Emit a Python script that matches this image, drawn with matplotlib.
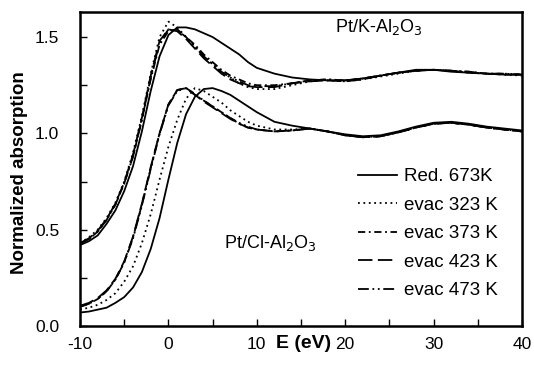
import matplotlib
matplotlib.use("Agg")
import matplotlib.pyplot as plt
from matplotlib.ticker import MultipleLocator, FormatStrFormatter

plt.rcParams['font.family'] = ['Liberation Sans', 'DejaVu Sans']
plt.rcParams['axes.unicode_minus'] = False

E = [-10, -9, -8, -7, -6, -5, -4, -3, -2, -1, 0, 1, 2, 3, 4, 5, 6, 7, 8, 9, 10,
     12, 14, 16, 18, 20, 22, 24, 26, 28, 30, 32, 34, 36, 38, 40]

# Pt/K-Al2O3 (upper group)
k_red673 = [0.42, 0.44, 0.47, 0.53, 0.60, 0.70, 0.83, 1.01, 1.22, 1.40, 1.51, 1.55, 1.55, 1.54, 1.52, 1.50, 1.47, 1.44, 1.41, 1.37, 1.34,
            1.31, 1.29, 1.28, 1.275, 1.275, 1.285, 1.30, 1.315, 1.33, 1.33, 1.32, 1.315, 1.31, 1.305, 1.305]
k_evac323 = [0.43, 0.46, 0.50, 0.56, 0.64, 0.75, 0.90, 1.09, 1.31, 1.50, 1.58, 1.55, 1.50, 1.45, 1.40, 1.36, 1.32, 1.29, 1.26, 1.24, 1.23,
             1.23, 1.25, 1.27, 1.275, 1.27, 1.28, 1.295, 1.31, 1.325, 1.33, 1.325, 1.315, 1.31, 1.305, 1.30]
k_evac373 = [0.43, 0.45, 0.49, 0.55, 0.63, 0.74, 0.88, 1.07, 1.28, 1.46, 1.53, 1.54, 1.50, 1.46, 1.41, 1.37, 1.33, 1.30, 1.28, 1.26, 1.25,
             1.25, 1.26, 1.275, 1.28, 1.275, 1.285, 1.30, 1.315, 1.325, 1.33, 1.325, 1.32, 1.31, 1.31, 1.305]
k_evac423 = [0.43, 0.455, 0.495, 0.555, 0.635, 0.745, 0.89, 1.08, 1.30, 1.48, 1.54, 1.53, 1.49, 1.44, 1.39, 1.35, 1.31, 1.28, 1.26, 1.245, 1.24,
             1.24, 1.26, 1.27, 1.275, 1.27, 1.28, 1.30, 1.315, 1.325, 1.33, 1.325, 1.315, 1.31, 1.305, 1.305]
k_evac473 = [0.43, 0.45, 0.49, 0.55, 0.63, 0.74, 0.88, 1.07, 1.29, 1.47, 1.54, 1.535, 1.50, 1.45, 1.40, 1.36, 1.32, 1.29, 1.27, 1.25, 1.245,
             1.245, 1.26, 1.275, 1.28, 1.275, 1.285, 1.30, 1.315, 1.325, 1.33, 1.325, 1.32, 1.31, 1.31, 1.305]

# Pt/Cl-Al2O3 (lower group)
cl_red673 = [0.07, 0.075, 0.085, 0.095, 0.12, 0.15, 0.20, 0.28, 0.40, 0.56, 0.76, 0.95, 1.10, 1.19, 1.23, 1.235, 1.22, 1.20, 1.17, 1.14, 1.11,
             1.06, 1.04, 1.025, 1.01, 0.995, 0.985, 0.99, 1.01, 1.035, 1.055, 1.06, 1.05, 1.035, 1.025, 1.015]
cl_evac323 = [0.085, 0.095, 0.11, 0.135, 0.17, 0.23, 0.31, 0.43, 0.58, 0.76, 0.93, 1.07, 1.18, 1.235, 1.22, 1.19, 1.16, 1.12, 1.09, 1.06, 1.04,
              1.02, 1.02, 1.025, 1.01, 0.99, 0.98, 0.985, 1.005, 1.03, 1.05, 1.055, 1.045, 1.03, 1.02, 1.01]
cl_evac373 = [0.10, 0.115, 0.14, 0.18, 0.24, 0.33, 0.46, 0.63, 0.82, 1.00, 1.15, 1.225, 1.235, 1.20, 1.17, 1.14, 1.11, 1.08, 1.05, 1.03, 1.02,
              1.01, 1.015, 1.025, 1.01, 0.99, 0.98, 0.985, 1.005, 1.03, 1.05, 1.055, 1.045, 1.03, 1.02, 1.01]
cl_evac423 = [0.105, 0.12, 0.145, 0.185, 0.245, 0.335, 0.465, 0.635, 0.825, 1.00, 1.15, 1.225, 1.235, 1.20, 1.165, 1.135, 1.105, 1.075, 1.05, 1.03, 1.02,
              1.01, 1.015, 1.025, 1.01, 0.99, 0.98, 0.985, 1.005, 1.03, 1.05, 1.055, 1.045, 1.03, 1.02, 1.01]
cl_evac473 = [0.10, 0.115, 0.14, 0.18, 0.24, 0.33, 0.455, 0.625, 0.815, 0.995, 1.145, 1.22, 1.235, 1.205, 1.17, 1.14, 1.11, 1.08, 1.055, 1.035, 1.02,
              1.01, 1.015, 1.025, 1.01, 0.99, 0.98, 0.985, 1.005, 1.03, 1.05, 1.055, 1.045, 1.03, 1.02, 1.01]

labels = ["Red. 673K", "evac 323 K", "evac 373 K", "evac 423 K", "evac 473 K"]
styles = ['-', (0, (1, 2)), (0, (4, 2, 1, 2)), (0, (8, 3)), (0, (6, 2, 1, 2, 1, 2))]

fig = plt.figure(figsize=(5.34, 3.66), dpi=100)
ax = fig.add_axes([80/534, 1 - 326/366, 442/534, 314/366])

k_series = [k_red673, k_evac323, k_evac373, k_evac423, k_evac473]
cl_series = [cl_red673, cl_evac323, cl_evac373, cl_evac423, cl_evac473]
for lab, ls, ks, cs in zip(labels, styles, k_series, cl_series):
    ax.plot(E, ks, color='black', lw=1.3, ls=ls, label=lab)
    ax.plot(E, cs, color='black', lw=1.3, ls=ls)

ax.set_xlim(-10, 40)
ax.set_ylim(0, 1.63)
ax.xaxis.set_major_locator(MultipleLocator(10))
ax.xaxis.set_minor_locator(MultipleLocator(5))
ax.yaxis.set_major_locator(MultipleLocator(0.5))
ax.yaxis.set_minor_locator(MultipleLocator(0.25))
ax.yaxis.set_major_formatter(FormatStrFormatter('%.1f'))
ax.tick_params(which='both', direction='in', labelsize=12.5, width=1, length=5)
ax.tick_params(axis='x', pad=8)
ax.tick_params(axis='y', pad=15)
for s in ax.spines.values():
    s.set_linewidth(1.8)

ax.set_xlabel('E (eV)', fontsize=14, fontweight='bold')
ax.xaxis.set_label_coords(0.505, -0.03)
ax.set_ylabel('Normalized absorption', fontsize=13.5, fontweight='bold')
ax.yaxis.set_label_coords(-0.118, 0.49)

ax.text(18.9, 1.55, 'Pt/K-Al$_2$O$_3$', fontsize=13, va='center', ha='left')
ax.text(6.3, 0.43, 'Pt/Cl-Al$_2$O$_3$', fontsize=13, va='center', ha='left')

ax.legend(loc='upper left', bbox_to_anchor=(0.629, 0.503), frameon=False, fontsize=13.5,
          borderpad=0, borderaxespad=0, handlelength=2.1, handletextpad=0.35,
          labelspacing=0.61)

fig.savefig('out.png', dpi=100)
